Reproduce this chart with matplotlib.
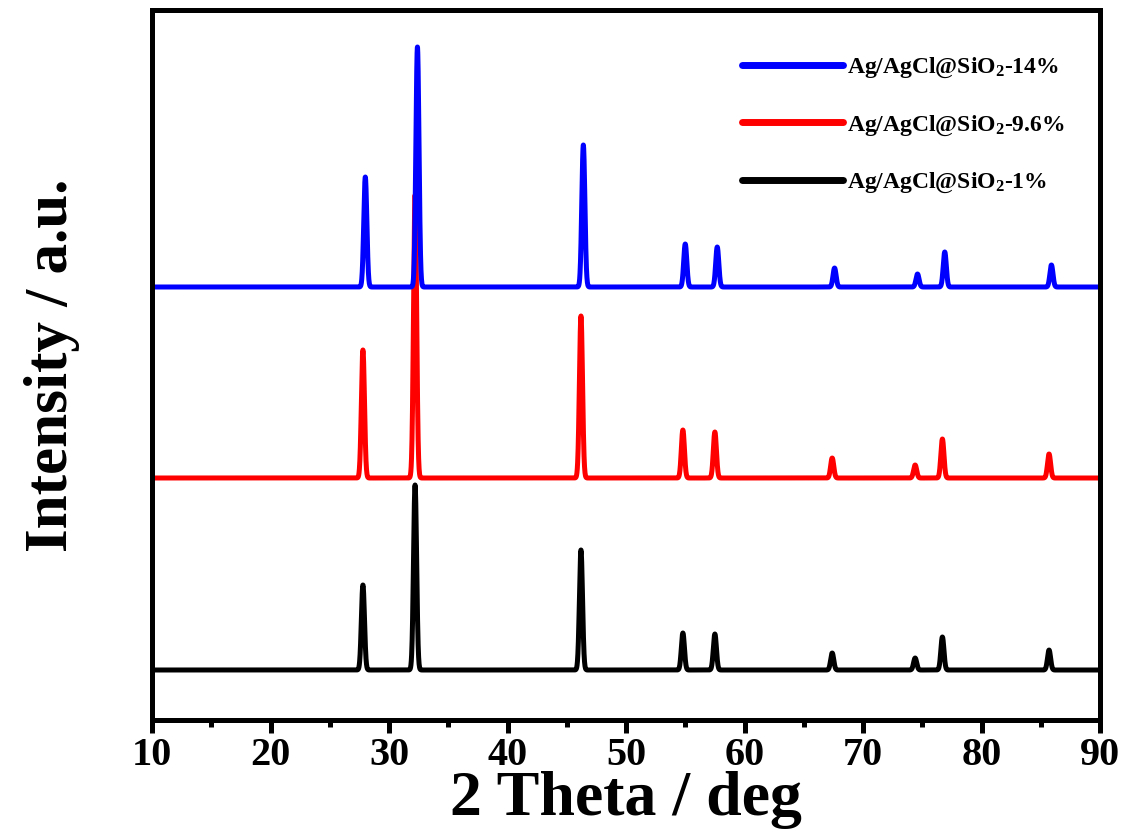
import numpy as np
from matplotlib import pyplot as plt
from matplotlib.ticker import MultipleLocator

# XRD peaks (2 theta in deg, heights in a.u.)
peaks_1 = [27.8, 32.2, 46.2, 54.8, 57.5, 67.4, 74.4, 76.7, 85.7]
height_1 = [85, 185, 120, 37, 36, 17, 12, 33, 20]

peaks_96 = [27.8, 32.2, 46.2, 54.8, 57.5, 67.4, 74.4, 76.7, 85.7]
height_96 = [128, 283, 162, 48, 46, 20, 13, 39, 24]

peaks_14 = [28.0, 32.4, 46.4, 55.0, 57.7, 67.6, 74.6, 76.9, 85.9]
height_14 = [110, 240, 142, 43, 40, 19, 13, 35, 22]

offsets = [50, 242, 433]
labels = ['Ag/AgCl@SiO$_2$-1%', 'Ag/AgCl@SiO$_2$-9.6%', 'Ag/AgCl@SiO$_2$-14%']
colors = ['k', 'r', 'b']

plt.rcParams['font.family'] = ['Liberation Serif', 'DejaVu Serif']
plt.rcParams['font.weight'] = 'bold'
plt.rcParams['mathtext.fontset'] = 'custom'
plt.rcParams['mathtext.rm'] = 'Liberation Serif:bold'
plt.rcParams['mathtext.it'] = 'Liberation Serif:bold'
plt.rcParams['mathtext.bf'] = 'Liberation Serif:bold'

two_theta = np.linspace(10, 90, 8001)


def pattern(pos, hgt, width=0.13):
    y = np.zeros_like(two_theta)
    for p, h in zip(pos, hgt):
        y += h * np.exp(-0.5 * ((two_theta - p) / width) ** 2)
    return y


fig = plt.figure(figsize=(11.26, 8.36), dpi=100)
ax = fig.add_axes([152 / 1126, 116 / 836, 948 / 1126, 710 / 836])

sets = [(peaks_1, height_1), (peaks_96, height_96), (peaks_14, height_14)]
lines = []
for (pos, hgt), off, c, lab in zip(sets, offsets, colors, labels):
    ln, = ax.plot(two_theta, pattern(pos, hgt) + off, color=c, lw=3.6,
                  label=lab, solid_capstyle='round')
    lines.append(ln)

ax.set_xlim(10, 90)
ax.set_ylim(0, 710)
ax.xaxis.set_major_locator(MultipleLocator(10))
ax.xaxis.set_minor_locator(MultipleLocator(5))
ax.set_yticks([])
ax.tick_params(axis='x', which='major', direction='out', length=9, width=3.6,
               labelsize=29, pad=3)
ax.tick_params(axis='x', which='minor', direction='out', length=5, width=3.6)
for s in ax.spines.values():
    s.set_linewidth(3.6)

ax.set_xlabel('2 Theta / deg', fontsize=46, fontweight='bold', labelpad=-2)
ax.set_ylabel('Intensity / a.u.', fontsize=44, fontweight='bold', labelpad=52)

leg = ax.legend(lines[::-1], labels[::-1], loc='upper right', frameon=False,
                fontsize=17, handlelength=4.3, labelspacing=1.4,
                handletextpad=0.15, bbox_to_anchor=(0.985, 0.965))
for ln in leg.get_lines():
    ln.set_linewidth(5)

plt.savefig('out.png', dpi=100)
